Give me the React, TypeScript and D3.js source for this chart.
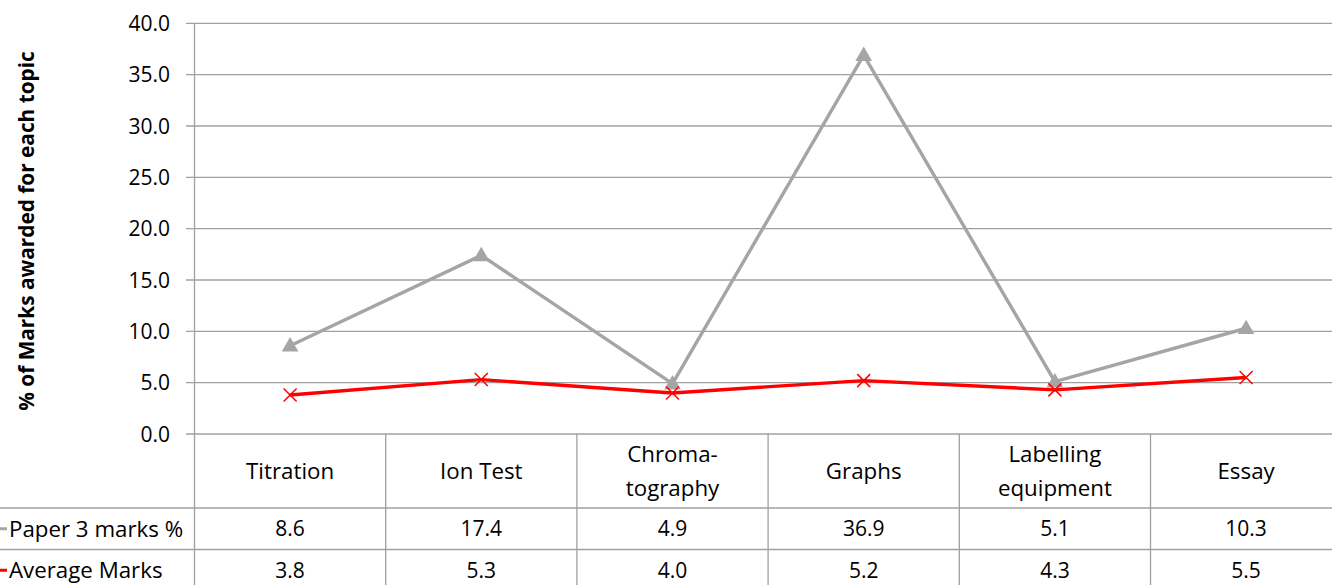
import React from "react";
import * as d3 from "d3";

const categories: string[][] = [
  ["Titration"],
  ["Ion Test"],
  ["Chroma-", "tography"],
  ["Graphs"],
  ["Labelling", "equipment"],
  ["Essay"],
];
const paper3: number[] = [8.6, 17.4, 4.9, 36.9, 5.1, 10.3];
const average: number[] = [3.8, 5.3, 4.0, 5.2, 4.3, 5.5];
const yTicks: number[] = [0, 5, 10, 15, 20, 25, 30, 35, 40];
const seriesNames: string[] = ["Paper 3 marks %", "Average Marks"];

const W = 1332;
const H = 585;
const left = 194.5;
const right = 1341.7;
const top = 23.3;
const bottom = 434;
const rowLines = [434, 508, 549.5, 591];
const FONT = "'Open Sans', Lato, sans-serif";
const GRID = "#a0a0a0";
const GRAY = "#a5a5a5";
const RED = "#ff0000";
const FS_WORD = 22.3;
const FS_NUM = 21;

export default function App() {
  const x = d3.scaleBand<number>().domain(d3.range(categories.length)).range([left, right]);
  const y = d3.scaleLinear().domain([0, 40]).range([bottom, top]);
  const cx = (i: number) => (x(i) as number) + x.bandwidth() / 2;
  const line = d3
    .line<number>()
    .x((_, i) => cx(i))
    .y((d) => y(d));
  const tri = d3.symbol().type(d3.symbolTriangle).size(120)();

  return (
    <svg width={W} height={H} style={{ position: "absolute", left: 0, top: 0 }} fontFamily={FONT}>
      <rect width={W} height={H} fill="#fff" />
      {yTicks.map((t) => (
        <g key={t}>
          <line x1={186} x2={right} y1={y(t)} y2={y(t)} stroke={GRID} strokeWidth={1.3} />
          <text x={170} y={y(t)} dy="0.36em" textAnchor="end" fontSize={FS_NUM} fill="#000">
            {t.toFixed(1)}
          </text>
        </g>
      ))}
      <line x1={left} x2={left} y1={top} y2={rowLines[3]} stroke={GRID} strokeWidth={1.3} />
      {rowLines.slice(1).map((ry) => (
        <line key={ry} x1={0} x2={W} y1={ry} y2={ry} stroke={GRID} strokeWidth={1.3} />
      ))}
      {d3.range(1, categories.length + 1).map((i) => {
        const bx = left + i * x.bandwidth();
        return <line key={i} x1={bx} x2={bx} y1={bottom} y2={rowLines[3]} stroke={GRID} strokeWidth={1.3} />;
      })}
      {categories.map((lines, i) => (
        <text key={i} x={cx(i)} textAnchor="middle" fontSize={FS_WORD} fill="#000">
          {lines.map((l, j) => (
            <tspan key={j} x={cx(i)} y={(rowLines[0] + rowLines[1]) / 2 + (j - (lines.length - 1) / 2) * 34} dy="0.36em">
              {l}
            </tspan>
          ))}
        </text>
      ))}
      {[paper3, average].map((vals, r) => (
        <g key={r}>
          {vals.map((v, i) => (
            <text
              key={i}
              x={cx(i)}
              y={(rowLines[r + 1] + rowLines[r + 2]) / 2}
              dy="0.36em"
              textAnchor="middle"
              fontSize={FS_NUM}
              fill="#000"
            >
              {v.toFixed(1)}
            </text>
          ))}
          <line
            x1={0}
            x2={7}
            y1={(rowLines[r + 1] + rowLines[r + 2]) / 2}
            y2={(rowLines[r + 1] + rowLines[r + 2]) / 2}
            stroke={r === 0 ? GRAY : RED}
            strokeWidth={3}
          />
          <text x={9} y={(rowLines[r + 1] + rowLines[r + 2]) / 2} dy="0.36em" fontSize={FS_WORD} fill="#000">
            {seriesNames[r]}
          </text>
        </g>
      ))}
      <path d={line(paper3) || ""} fill="none" stroke={GRAY} strokeWidth={3.4} strokeLinejoin="round" />
      {paper3.map((v, i) => (
        <path key={i} d={tri || ""} transform={`translate(${cx(i)},${y(v) + 1})`} fill={GRAY} />
      ))}
      <path d={line(average) || ""} fill="none" stroke={RED} strokeWidth={3.4} strokeLinejoin="round" />
      {average.map((v, i) => (
        <g key={i} transform={`translate(${cx(i)},${y(v)})`} stroke={RED} strokeWidth={1.5}>
          <line x1={-6.5} y1={-6.5} x2={6.5} y2={6.5} />
          <line x1={-6.5} y1={6.5} x2={6.5} y2={-6.5} />
        </g>
      ))}
      <text
        transform={`translate(34,231) rotate(-90)`}
        textAnchor="middle"
        fontSize={20.8}
        fontWeight="bold"
        fill="#000"
      >
        % of Marks awarded for each topic
      </text>
    </svg>
  );
}
